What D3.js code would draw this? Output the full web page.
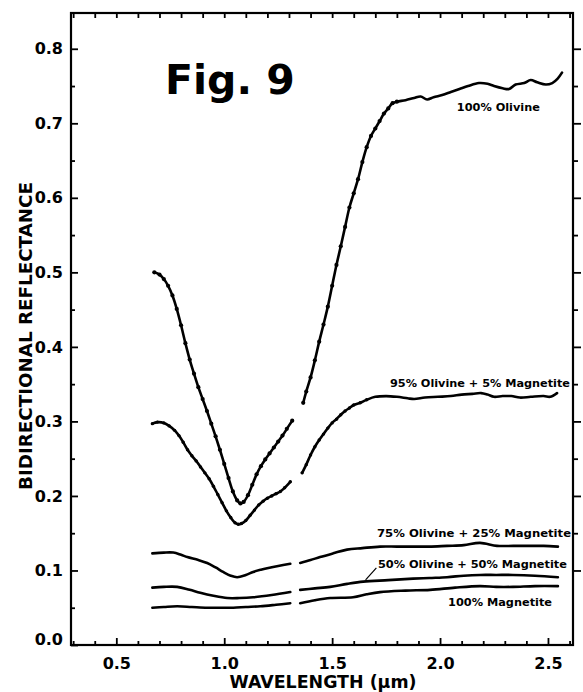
<!DOCTYPE html>
<html>
<head>
<meta charset="utf-8">
<script src="https://cdn.jsdelivr.net/npm/d3@7"></script>
<style>
  body { margin: 0; background: #fff; }
  text { font-family: "DejaVu Sans", sans-serif; font-weight: bold; fill: #000; }
</style>
</head>
<body>
<script>
// tick values / labels
const xMajor = [0.5, 1.0, 1.5, 2.0, 2.5];
const xTickLabels = ["0.5", "1.0", "1.5", "2.0", "2.5"];
const xMinor = [0.3, 0.4, 0.6, 0.7, 0.8, 0.9, 1.1, 1.2, 1.3, 1.4, 1.6, 1.7, 1.8, 1.9, 2.1, 2.2, 2.3, 2.4, 2.6];
const yMajor = [0.0, 0.1, 0.2, 0.3, 0.4, 0.5, 0.6, 0.7, 0.8];
const yTickLabels = ["0.0", "0.1", "0.2", "0.3", "0.4", "0.5", "0.6", "0.7", "0.8"];
const yMinor = [0.05, 0.15, 0.25, 0.35, 0.45, 0.55, 0.65, 0.75];

// spectra: [wavelength um, reflectance], null = gap in the record
const olivine100 = [
  [0.676, 0.500], [0.70, 0.497], [0.72, 0.491], [0.74, 0.482], [0.76, 0.469], [0.78, 0.451],
  [0.80, 0.429], [0.82, 0.405], [0.84, 0.383], [0.86, 0.364], [0.88, 0.346], [0.90, 0.330],
  [0.92, 0.314], [0.94, 0.297], [0.96, 0.280], [0.98, 0.262], [1.00, 0.243], [1.02, 0.224],
  [1.04, 0.206], [1.06, 0.194], [1.075, 0.190], [1.09, 0.192], [1.11, 0.201], [1.13, 0.215],
  [1.15, 0.229], [1.17, 0.240], [1.19, 0.249], [1.21, 0.257], [1.23, 0.265], [1.25, 0.273],
  [1.27, 0.281], [1.29, 0.290], [1.315, 0.301],
  null,
  [1.366, 0.325], [1.38, 0.340], [1.40, 0.359], [1.42, 0.382], [1.44, 0.407], [1.46, 0.430],
  [1.48, 0.454], [1.50, 0.482], [1.52, 0.510], [1.54, 0.535], [1.56, 0.561], [1.58, 0.587],
  [1.60, 0.606], [1.62, 0.625], [1.64, 0.648], [1.66, 0.668], [1.68, 0.683], [1.70, 0.693],
  [1.72, 0.703], [1.74, 0.713], [1.76, 0.720], [1.78, 0.727], [1.80, 0.729], [1.84, 0.731],
  [1.88, 0.734], [1.91, 0.736], [1.94, 0.732], [1.97, 0.735], [2.01, 0.738], [2.05, 0.742],
  [2.09, 0.746], [2.13, 0.750], [2.18, 0.754], [2.22, 0.753], [2.25, 0.750], [2.29, 0.747],
  [2.32, 0.746], [2.35, 0.752], [2.39, 0.754], [2.42, 0.758], [2.45, 0.755], [2.49, 0.752],
  [2.52, 0.754], [2.545, 0.760], [2.565, 0.768]
];
const olivine95 = [
  [0.667, 0.297], [0.69, 0.299], [0.72, 0.298], [0.745, 0.294], [0.77, 0.288], [0.79, 0.281],
  [0.81, 0.272], [0.83, 0.262], [0.85, 0.254], [0.87, 0.247], [0.89, 0.239], [0.91, 0.231],
  [0.93, 0.223], [0.95, 0.213], [0.97, 0.202], [0.99, 0.191], [1.01, 0.180], [1.03, 0.171],
  [1.05, 0.164], [1.065, 0.162], [1.08, 0.163], [1.10, 0.167], [1.12, 0.174], [1.14, 0.181],
  [1.16, 0.188], [1.18, 0.193], [1.20, 0.197], [1.22, 0.200], [1.24, 0.203], [1.26, 0.206],
  [1.28, 0.211], [1.306, 0.219],
  null,
  [1.361, 0.231], [1.38, 0.242], [1.40, 0.255], [1.42, 0.266], [1.44, 0.275], [1.46, 0.283],
  [1.48, 0.291], [1.50, 0.298], [1.52, 0.303], [1.54, 0.309], [1.56, 0.314], [1.58, 0.318],
  [1.60, 0.322], [1.63, 0.325], [1.66, 0.329], [1.70, 0.333], [1.75, 0.334], [1.80, 0.333],
  [1.85, 0.331], [1.88, 0.330], [1.93, 0.332], [1.99, 0.333], [2.05, 0.334], [2.10, 0.336],
  [2.15, 0.337], [2.19, 0.338], [2.22, 0.336], [2.25, 0.333], [2.29, 0.334], [2.33, 0.334],
  [2.37, 0.332], [2.42, 0.333], [2.48, 0.334], [2.51, 0.333], [2.542, 0.338]
];
const olivine75 = [
  [0.667, 0.123], [0.72, 0.124], [0.764, 0.124], [0.80, 0.121], [0.829, 0.118], [0.88, 0.114],
  [0.921, 0.110], [0.96, 0.104], [0.995, 0.098], [1.03, 0.093], [1.06, 0.091], [1.10, 0.094],
  [1.134, 0.098], [1.17, 0.101], [1.199, 0.103], [1.25, 0.106], [1.306, 0.109],
  null,
  [1.352, 0.110], [1.40, 0.114], [1.444, 0.118], [1.505, 0.123], [1.569, 0.128], [1.64, 0.130],
  [1.722, 0.132], [1.80, 0.132], [1.875, 0.132], [1.95, 0.132], [2.032, 0.133], [2.11, 0.134],
  [2.185, 0.137], [2.264, 0.133], [2.34, 0.133], [2.417, 0.133], [2.48, 0.133], [2.546, 0.132]
];
const olivine50 = [
  [0.667, 0.077], [0.72, 0.078], [0.782, 0.078], [0.84, 0.074], [0.889, 0.070], [0.95, 0.066],
  [1.014, 0.063], [1.07, 0.063], [1.134, 0.064], [1.22, 0.067], [1.306, 0.071],
  null,
  [1.352, 0.074], [1.42, 0.076], [1.491, 0.078], [1.57, 0.082], [1.644, 0.085], [1.76, 0.087],
  [1.875, 0.089], [1.95, 0.090], [2.032, 0.091], [2.11, 0.093], [2.185, 0.094], [2.26, 0.094],
  [2.338, 0.094], [2.44, 0.093], [2.546, 0.091]
];
const magnetite100 = [
  [0.667, 0.050], [0.72, 0.051], [0.782, 0.052], [0.85, 0.051], [0.921, 0.050], [0.98, 0.050],
  [1.042, 0.050], [1.10, 0.051], [1.167, 0.052], [1.24, 0.054], [1.306, 0.056],
  null,
  [1.352, 0.056], [1.42, 0.060], [1.491, 0.063], [1.597, 0.064], [1.66, 0.068], [1.722, 0.071],
  [1.84, 0.073], [1.954, 0.074], [2.07, 0.077], [2.185, 0.079], [2.26, 0.078], [2.338, 0.078],
  [2.44, 0.079], [2.546, 0.079]
];

const series = [
  { name: "100% Olivine", data: olivine100, dotMax: 1.8, r: 2.1 },
  { name: "95% Olivine + 5% Magnetite", data: olivine95, dotMax: 1.68, r: 1.7 },
  { name: "75% Olivine + 25% Magnetite", data: olivine75, dotMax: 0 },
  { name: "50% Olivine + 50% Magnetite", data: olivine50, dotMax: 0 },
  { name: "100% Magnetite", data: magnetite100, dotMax: 0 }
];

// curve labels: left end (um), baseline (reflectance), drawn width in px
const curveLabels = [
  { text: "100% Olivine", x: 2.078, y: 0.717, w: 83 },
  { text: "95% Olivine + 5% Magnetite", x: 1.768, y: 0.346, w: 180 },
  { text: "75% Olivine + 25% Magnetite", x: 1.708, y: 0.145, w: 194 },
  { text: "50% Olivine + 50% Magnetite", x: 1.712, y: 0.103, w: 189 },
  { text: "100% Magnetite", x: 2.037, y: 0.052, w: 104 }
];
const leader = [[1.655, 0.0875], [1.705, 0.1035]];

const width = 583, height = 692;
const svg = d3.select("body").append("svg")
  .attr("width", width)
  .attr("height", height);

const x = d3.scaleLinear().domain([0.29, 2.616]).range([71, 573]);
const y = d3.scaleLinear().domain([0, 0.848]).range([645, 13]);

// axes (ticks point into the plot, right side ticks point out)
svg.append("g").attr("transform", "translate(0,645)")
  .call(d3.axisBottom(x).tickValues(xMajor).tickSizeInner(-7).tickSizeOuter(0).tickPadding(13)
    .tickFormat((d, i) => xTickLabels[i]));
svg.append("g").attr("transform", "translate(0,645)")
  .call(d3.axisBottom(x).tickValues(xMinor).tickSizeInner(-4).tickSizeOuter(0).tickFormat(""));
svg.append("g").attr("transform", "translate(0,13)")
  .call(d3.axisTop(x).tickValues(xMajor.concat(xMinor)).tickSizeInner(-5).tickSizeOuter(0).tickFormat(""));

const left = svg.append("g").attr("transform", "translate(71,0)")
  .call(d3.axisLeft(y).tickValues(yMajor).tickSizeInner(-7).tickSizeOuter(0).tickPadding(8)
    .tickFormat((d, i) => yTickLabels[i]));
svg.append("g").attr("transform", "translate(71,0)")
  .call(d3.axisLeft(y).tickValues(yMinor).tickSizeInner(-4).tickSizeOuter(0).tickFormat(""));
svg.append("g").attr("transform", "translate(573,0)")
  .call(d3.axisRight(y).tickValues(yMajor.slice(1)).tickSizeInner(8).tickSizeOuter(0).tickFormat(""));
svg.append("g").attr("transform", "translate(573,0)")
  .call(d3.axisRight(y).tickValues(yMinor.slice(1)).tickSizeInner(5).tickSizeOuter(0).tickFormat(""));

svg.selectAll(".domain").remove();
svg.selectAll(".tick line").attr("stroke", "#000").attr("stroke-width", 1.8);
svg.selectAll(".tick text").style("font-size", "16px").style("font-family", "DejaVu Sans").style("font-weight", "bold");
left.selectAll(".tick text").filter(d => d === 0).attr("dy", "-0.05em");

// frame
svg.append("rect")
  .attr("x", x.range()[0]).attr("y", y.range()[1])
  .attr("width", x.range()[1] - x.range()[0])
  .attr("height", y.range()[0] - y.range()[1])
  .attr("fill", "none").attr("stroke", "#000").attr("stroke-width", 2.2);

// spectra
const line = d3.line()
  .defined(d => d)
  .x(d => x(d[0]))
  .y(d => y(d[1]))
  .curve(d3.curveCatmullRom.alpha(0.5));

svg.selectAll(".spectrum")
  .data(series)
  .enter().append("path")
  .attr("class", "spectrum")
  .attr("d", d => line(d.data))
  .attr("fill", "none")
  .attr("stroke", "#000")
  .attr("stroke-width", 2.6)
  .attr("stroke-linejoin", "round")
  .attr("stroke-linecap", "round");

series.forEach(s => {
  svg.append("g").selectAll("circle")
    .data(s.data.filter(d => d && d[0] <= s.dotMax))
    .enter().append("circle")
    .attr("cx", d => x(d[0]))
    .attr("cy", d => y(d[1]))
    .attr("r", s.r)
    .attr("fill", "#000");
});

// curve labels
svg.selectAll(".clabel")
  .data(curveLabels)
  .enter().append("text")
  .attr("class", "clabel")
  .attr("x", d => x(d.x))
  .attr("y", d => y(d.y))
  .attr("textLength", d => d.w)
  .attr("lengthAdjust", "spacingAndGlyphs")
  .style("font-size", "11px")
  .text(d => d.text);

svg.append("line")
  .attr("x1", x(leader[0][0])).attr("y1", y(leader[0][1]))
  .attr("x2", x(leader[1][0])).attr("y2", y(leader[1][1]))
  .attr("stroke", "#000").attr("stroke-width", 1.2);

// figure tag
svg.append("text")
  .attr("x", 165).attr("y", 94)
  .style("font-size", "41px")
  .text("Fig. 9");

// axis titles
svg.append("text")
  .attr("x", 323).attr("y", 688)
  .attr("text-anchor", "middle")
  .attr("textLength", 187)
  .attr("lengthAdjust", "spacingAndGlyphs")
  .style("font-size", "17px")
  .text("WAVELENGTH (\u03BCm)");

svg.append("text")
  .attr("transform", "translate(32,336)rotate(-90)")
  .attr("text-anchor", "middle")
  .attr("textLength", 308)
  .attr("lengthAdjust", "spacingAndGlyphs")
  .style("font-size", "18px")
  .text("BIDIRECTIONAL REFLECTANCE");
</script>
</body>
</html>
